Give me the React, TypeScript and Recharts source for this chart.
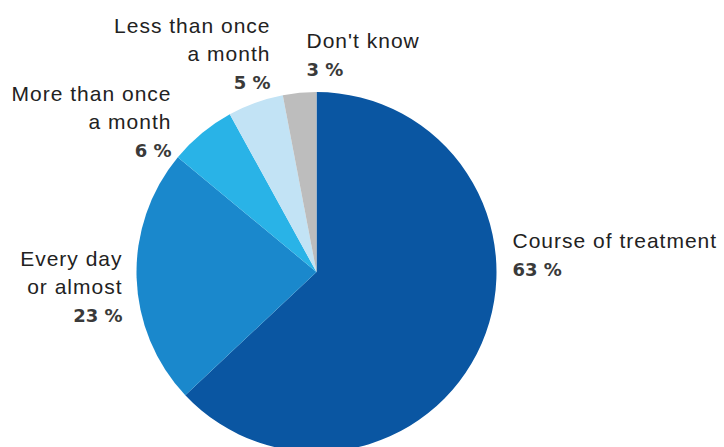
import { PieChart, Pie, Cell } from 'recharts';

const categories = [
  'Course of treatment',
  'Every day or almost',
  'More than once a month',
  'Less than once a month',
  "Don't know",
];
const shares = [63, 23, 6, 5, 3];
const labelLines = [
  ['Course of treatment'],
  ['Every day', 'or almost'],
  ['More than once', 'a month'],
  ['Less than once', 'a month'],
  ["Don't know"],
];
const colors = ['#0a56a2', '#1a88cc', '#29b3e7', '#c2e3f5', '#bdbdbd'];

// label anchor offsets from the pie centre (layout only)
const labelPlacement = [
  { dx: 196, dy: -24, anchor: 'start' },
  { dx: -194, dy: -6, anchor: 'end' },
  { dx: -145, dy: -171, anchor: 'end' },
  { dx: -46, dy: -239, anchor: 'end' },
  { dx: -10, dy: -224, anchor: 'start' },
];

const data = categories.map((name, i) => ({ name, value: shares[i] }));

const LINE_H = 28;

function renderLabel(props: any) {
  const { cx, cy, index, value } = props;
  const p = labelPlacement[index];
  const x = cx + p.dx;
  const y = cy + p.dy;
  const lines = labelLines[index];
  return (
    <g key={`lbl-${index}`}>
      {lines.map((line, j) => (
        <text
          key={j}
          x={x}
          y={y + j * LINE_H}
          textAnchor={p.anchor as any}
          fill="#222"
          fontSize={21}
          letterSpacing={1}
          fontFamily="'Liberation Sans', Arial, sans-serif"
        >
          {line}
        </text>
      ))}
      <text
        x={x}
        y={y + lines.length * LINE_H}
        textAnchor={p.anchor as any}
        fill="#3a3a3a"
        fontSize={18}
        fontWeight="bold"
        fontFamily="'DejaVu Sans', sans-serif"
      >
        {`${value} %`}
      </text>
    </g>
  );
}

export default function App() {
  return (
    <div style={{ position: 'absolute', left: 0, top: 0, width: 724, height: 447, background: '#fff' }}>
      <PieChart width={724} height={447} margin={{ top: 0, right: 0, bottom: 0, left: 0 }}>
        <Pie
          data={data}
          dataKey="value"
          nameKey="name"
          cx={316.5}
          cy={272}
          outerRadius={180}
          startAngle={90}
          endAngle={-270}
          stroke="none"
          labelLine={false}
          label={renderLabel}
          isAnimationActive={false}
        >
          {data.map((d, i) => (
            <Cell key={d.name} fill={colors[i]} />
          ))}
        </Pie>
      </PieChart>
    </div>
  );
}
